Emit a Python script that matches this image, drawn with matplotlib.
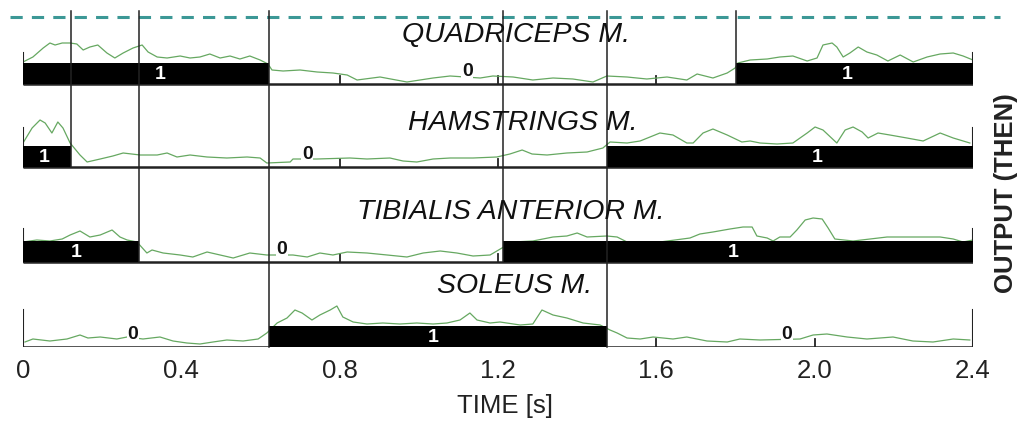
import numpy as np
import matplotlib.pyplot as plt

plt.rcParams['font.family'] = ['Liberation Sans', 'DejaVu Sans']

muscles = ["QUADRICEPS M.", "HAMSTRINGS M.", "TIBIALIS ANTERIOR M.", "SOLEUS M."]

# output segments of each muscle: (start s, end s, state)
quad_states = [(0.0, 0.622, 1), (0.622, 1.80, 0), (1.80, 2.4, 1)]
ham_states = [(0.0, 0.121, 1), (0.121, 1.476, 0), (1.476, 2.4, 1)]
tib_states = [(0.0, 0.293, 1), (0.293, 1.213, 0), (1.213, 2.4, 1)]
sol_states = [(0.0, 0.622, 0), (0.622, 1.476, 1), (1.476, 2.4, 0)]

# time where the 0/1 label of each segment is written
quad_label_t = [0.346, 1.122, 2.082]
ham_label_t = [0.053, 0.718, 2.006]
tib_label_t = [0.134, 0.654, 1.794]
sol_label_t = [0.278, 1.036, 1.930]

# switching instants and the last muscle row each one reaches
switch_t = [0.121, 0.293, 0.622, 1.213, 1.476, 1.80]
switch_row = [1, 2, 3, 2, 3, 0]

# EMG envelopes: time [s], amplitude [a.u.]
quad_t = [0.000, 0.025, 0.051, 0.068, 0.081, 0.099, 0.119, 0.136, 0.152, 0.169,
          0.189, 0.212, 0.232, 0.253, 0.278, 0.301, 0.316, 0.339, 0.364, 0.397,
          0.422, 0.447, 0.472, 0.498, 0.523, 0.548, 0.573, 0.599, 0.619,
          0.629, 0.657, 0.700, 0.743, 0.783, 0.819, 0.844, 0.902, 0.970, 1.036,
          1.079, 1.155, 1.187, 1.238, 1.288, 1.339, 1.389, 1.440, 1.475, 1.526,
          1.576, 1.627, 1.677,
          1.703, 1.743, 1.779, 1.799, 1.806, 1.837, 1.880, 1.912, 1.945, 1.981,
          2.006, 2.021, 2.044, 2.056, 2.072, 2.089, 2.110, 2.132, 2.157, 2.185,
          2.216, 2.249, 2.284, 2.317, 2.350, 2.375, 2.400]
quad_emg = [22, 27, 36, 41, 39, 41, 41, 40, 34, 37,
            39, 31, 26, 31, 36, 39, 32, 27, 26, 28,
            26, 27, 30, 26, 28, 25, 28, 24, 20,
            14, 13, 14, 12, 11, 9, 4, 7, 2, 6,
            8, 6, 8, 7, 4, 6, 5, 2, 8, 7,
            5, 7, 4,
            10, 6, 11, 16, 21, 24, 25, 27, 28, 23,
            26, 39, 41, 37, 27, 31, 37, 32, 29, 23,
            29, 22, 27, 30, 31, 28, 24]

ham_t = [0.000, 0.023, 0.043, 0.056, 0.073, 0.088, 0.101, 0.119, 0.144, 0.162,
         0.195, 0.227, 0.253, 0.296, 0.339, 0.364, 0.389, 0.422, 0.465, 0.515,
         0.566, 0.599, 0.616, 0.675, 0.682, 0.743, 0.826, 0.869, 0.927, 0.960,
         0.995, 1.036, 1.079, 1.137, 1.197, 1.230, 1.261, 1.286, 1.324, 1.374,
         1.425, 1.465, 1.483, 1.526, 1.559, 1.609, 1.642, 1.677, 1.693, 1.718,
         1.743, 1.779, 1.816, 1.837, 1.862, 1.905, 1.945, 1.981, 2.001, 2.021,
         2.056, 2.077, 2.097, 2.120, 2.135, 2.160, 2.190, 2.233, 2.274, 2.317,
         2.350, 2.392]
ham_emg = [24, 39, 47, 44, 34, 45, 39, 24, 12, 5,
           8, 11, 14, 12, 12, 14, 10, 12, 10, 9,
           10, 9, 4, 5, 8, 8, 9, 8, 9, 6,
           5, 8, 9, 9, 10, 13, 17, 13, 12, 14,
           15, 19, 25, 24, 26, 34, 32, 24, 24, 34,
           38, 32, 25, 26, 24, 23, 24, 34, 40, 37,
           24, 37, 40, 35, 29, 34, 32, 29, 26, 34,
           29, 24]

tib_t = [0.000, 0.035, 0.068, 0.099, 0.119, 0.144, 0.169, 0.195, 0.225, 0.245,
         0.263, 0.288,
         0.313, 0.326, 0.354, 0.397, 0.429, 0.465, 0.498, 0.531, 0.573, 0.616,
         0.682, 0.718, 0.750, 0.783, 0.819, 0.869, 0.920, 0.970, 1.011, 1.054,
         1.096, 1.137, 1.180, 1.210,
         1.238, 1.288, 1.339, 1.374, 1.400, 1.425, 1.475, 1.501, 1.526, 1.609,
         1.685, 1.710, 1.743, 1.786, 1.819, 1.842, 1.854, 1.880, 1.895, 1.912,
         1.938, 1.955, 1.976, 1.996, 2.019, 2.034, 2.051, 2.097, 2.140, 2.183,
         2.249, 2.317, 2.350, 2.375, 2.400]
tib_emg = [20, 22, 21, 23, 27, 31, 25, 27, 32, 25,
           22, 20,
           9, 12, 9, 7, 5, 10, 7, 4, 9, 7,
           7, 5, 9, 7, 10, 9, 7, 5, 9, 11,
           9, 6, 7, 14,
           20, 21, 25, 26, 29, 25, 26, 25, 20, 20,
           24, 28, 30, 33, 35, 35, 26, 24, 21, 25,
           25, 32, 42, 44, 43, 34, 23, 21, 23, 25,
           25, 25, 23, 20, 22]

sol_t = [0.005, 0.025, 0.068, 0.111, 0.144, 0.164, 0.195, 0.237, 0.263, 0.303,
         0.346, 0.379, 0.414, 0.447, 0.480, 0.515, 0.556, 0.594, 0.616,
         0.642, 0.667, 0.687, 0.705, 0.730, 0.750, 0.776, 0.793, 0.808, 0.834,
         0.869, 0.909, 0.952, 0.995, 1.036, 1.071, 1.104, 1.129, 1.147, 1.180,
         1.205, 1.256, 1.288, 1.311, 1.339, 1.374, 1.415, 1.458,
         1.483, 1.501, 1.526, 1.559, 1.592, 1.642, 1.677, 1.728, 1.779, 1.811,
         1.862, 1.963, 1.996, 2.031, 2.082, 2.132, 2.198, 2.248, 2.299, 2.350,
         2.392]
sol_emg = [5, 8, 6, 8, 12, 9, 10, 8, 10, 8,
           10, 6, 4, 3, 5, 7, 6, 8, 14,
           24, 29, 37, 34, 27, 32, 37, 41, 30, 25,
           23, 24, 23, 24, 23, 24, 27, 34, 27, 24,
           25, 22, 23, 37, 32, 29, 24, 22,
           17, 14, 9, 8, 10, 8, 10, 6, 5, 8,
           7, 8, 12, 13, 10, 8, 10, 6, 5, 8,
           7]

xticks = [0, 0.4, 0.8, 1.2, 1.6, 2.0, 2.4]
xticklabels = ["0", "0.4", "0.8", "1.2", "1.6", "2.0", "2.4"]
minor_ticks = [0.8, 1.2, 1.6, 2.0]

states = [quad_states, ham_states, tib_states, sol_states]
label_ts = [quad_label_t, ham_label_t, tib_label_t, sol_label_t]
emg_ts = [quad_t, ham_t, tib_t, sol_t]
emgs = [quad_emg, ham_emg, tib_emg, sol_emg]

# layout (y measured downwards, row pixels)
baseline = [84, 167, 262, 347]
end_top = [53, 128, 229, 310]
title_y = [35, 123, 212, 286]
title_x = [1.245, 1.263, 1.233, 1.243]
bar_h = 21
green = "#66a861"

fig = plt.figure(figsize=(10.26, 4.22), dpi=100)
ax = fig.add_axes([23 / 1026, (422 - 347) / 422, 950 / 1026, 347 / 422])
ax.set_xlim(0, 2.4)
ax.set_ylim(347, 0)
for s in ax.spines.values():
    s.set_visible(False)
ax.set_yticks([])
ax.set_xticks(xticks)
ax.set_xticklabels(xticklabels)
ax.tick_params(axis='x', length=0, pad=9, labelsize=18.5, colors="#222222")

# dashed reference line on top
ax.plot([-0.033, 2.468], [17, 17], color="#3c9896", lw=2.2,
        dashes=(4, 3), clip_on=False)

for i in range(4):
    b = baseline[i]
    ax.plot([0, 2.4], [b, b], color="#222222", lw=1.8, zorder=3,
            solid_capstyle='butt')
    ax.plot([0, 0], [end_top[i], b], color="#222222", lw=1.5, zorder=3)
    ax.plot([2.4, 2.4], [end_top[i], b], color="#222222", lw=1.5, zorder=3)
    for mt in minor_ticks:
        ax.plot([mt, mt], [b - 8, b], color="#222222", lw=1.3, zorder=1)

    ax.plot(emg_ts[i], [b - v for v in emgs[i]], color=green, lw=0.9, zorder=2)

    for (t0, t1, st), lt in zip(states[i], label_ts[i]):
        if st == 1:
            ax.bar(t0, bar_h, width=t1 - t0, bottom=b - bar_h, align='edge',
                   color="black", zorder=3)
            ax.text(lt, b - bar_h / 2 + 1, "1", color="white", fontsize=14,
                    fontweight='bold', ha='center', va='center', zorder=5)
        else:
            ax.text(lt, b - bar_h / 2 - 2, "0", color="#111111", fontsize=14,
                    fontweight='bold', ha='center', va='center', zorder=4,
                    bbox=dict(facecolor='white', edgecolor='none', pad=0.5))

    ax.text(title_x[i], title_y[i], muscles[i], fontsize=20.5, style='italic',
            ha='center', va='center', color="#111111", zorder=6)

for t, r in zip(switch_t, switch_row):
    ax.plot([t, t], [11, baseline[r]], color="#222222", lw=1.1, zorder=4,
            clip_on=False)

fig.text(505 / 1026, 1 - 406 / 422, "TIME [s]", fontsize=18.5, ha='center',
         va='center', color="#222222")
fig.text(1006 / 1026, 1 - 193 / 422, "OUTPUT (THEN)", fontsize=18.5,
         fontweight='bold', rotation=90, ha='center', va='center',
         color="#222222")

fig.savefig("out.png", dpi=100)
